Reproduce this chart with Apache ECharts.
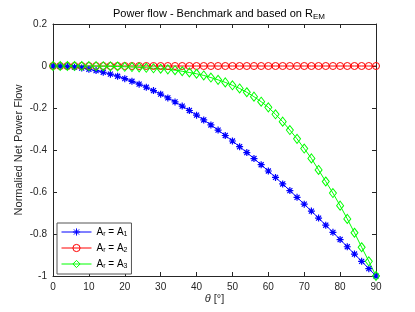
<!DOCTYPE html>
<html>
<head>
<meta charset="utf-8">
<script src="https://cdn.jsdelivr.net/npm/echarts@6/dist/echarts.min.js"></script>
<style>html,body{margin:0;padding:0;background:#fff}#c{width:415px;height:312px}</style>
</head>
<body>
<div id="c"></div>
<script>
var theta = [0,2,4,6,8,10,12,14,16,18,20,22,24,26,28,30,32,34,36,38,40,42,44,46,48,50,52,54,56,58,60,62,64,66,68,70,72,74,76,78,80,82,84,86,88,90];
var seriesA1 = [0,-0.0006,-0.0024,-0.0055,-0.0097,-0.0152,-0.0219,-0.0297,-0.0387,-0.0489,-0.0603,-0.0728,-0.0865,-0.1012,-0.1171,-0.134,-0.152,-0.171,-0.191,-0.212,-0.234,-0.2569,-0.2807,-0.3053,-0.3309,-0.3572,-0.3843,-0.4122,-0.4408,-0.4701,-0.5,-0.5305,-0.5616,-0.5933,-0.6254,-0.658,-0.691,-0.7244,-0.7581,-0.7921,-0.8264,-0.8608,-0.8955,-0.9302,-0.9651,-1];
var seriesA2 = [0,0,0,0,0,0,0,0,0,0,0,0,0,0,0,0,0,0,0,0,0,0,0,0,0,0,0,0,0,0,0,0,0,0,0,0,0,0,0,0,0,0,0,0,0,0];
var seriesA3 = [0,0,0,0,-0.0001,-0.0003,-0.0006,-0.001,-0.0016,-0.0025,-0.0037,-0.005,-0.0065,-0.0085,-0.011,-0.013,-0.016,-0.02,-0.025,-0.031,-0.037,-0.045,-0.055,-0.066,-0.078,-0.092,-0.107,-0.125,-0.146,-0.17,-0.197,-0.23,-0.265,-0.305,-0.347,-0.393,-0.44,-0.495,-0.55,-0.605,-0.665,-0.728,-0.794,-0.863,-0.93,-1];
var xTicks = [0,10,20,30,40,50,60,70,80,90];
var yTicks = [0.2,0,-0.2,-0.4,-0.6,-0.8,-1];
var legendNames = ['A1','A2','A3'];

function pairs(ys){ return theta.map(function(t,i){ return [t, ys[i]]; }); }
var axisCol = '#262626';
var font = 'Liberation Sans, Arial, sans-serif';
var asterisk = 'path://M0,-5L0,5M-5,0L5,0M-3.6,-3.6L3.6,3.6M-3.6,3.6L3.6,-3.6';
var colors = {A1:'#0000ff', A2:'#ff0000', A3:'#00ff00'};

var chart = echarts.init(document.getElementById('c'), null, {renderer:'canvas'});
function baseAxis(){ return {
  axisLine:{show:true, onZero:false, lineStyle:{color:axisCol, width:1}},
  axisTick:{show:true, inside:true, length:4, lineStyle:{color:axisCol}},
  splitLine:{show:false}
};}
chart.setOption({
  animation:false,
  backgroundColor:'#fff',
  title:{
    text:'{t|Power flow - Benchmark and based on R}{s|EM}',
    left:214, top:2, textAlign:'center',
    textStyle:{fontWeight:'normal', rich:{
      t:{fontFamily:font, fontSize:11, fontWeight:'normal', color:'#000'},
      s:{fontFamily:font, fontSize:8, fontWeight:'normal', color:'#000', padding:[6,0,0,0]}
    }}
  },
  grid:{left:53, right:39, top:24, bottom:36, containLabel:false},
  legend:{
    orient:'vertical', left:57, top:223,
    data:legendNames.map(function(n){ return {
      name:n,
      itemStyle:{color: n==='A1' ? colors[n] : 'rgba(0,0,0,0)', borderColor:colors[n], borderWidth:1},
      lineStyle:{color:colors[n], width:1}
    };}),
    backgroundColor:'#fff', borderColor:'#555', borderWidth:1,
    padding:[4,4,4,4], itemGap:5, itemWidth:30, itemHeight:9,
    formatter:function(n){ return '{a|A}{s|r}{a| = A}{s|'+n.slice(1)+'}'; },
    textStyle:{rich:{
      a:{fontFamily:font, fontSize:10, color:'#000'},
      s:{fontFamily:font, fontSize:7, color:'#000', padding:[5,0,0,0]}
    }}
  },
  xAxis:[
    Object.assign(baseAxis(), {
      type:'value', min:0, max:90, interval:10, position:'bottom',
      axisLabel:{fontFamily:font, fontSize:10, color:axisCol, margin:6},
      name:'{i|θ} [°]', nameLocation:'middle', nameGap:17, nameMoveOverlap:false,
      nameTextStyle:{fontFamily:font, fontSize:11, color:axisCol, rich:{i:{fontFamily:font, fontSize:11, fontStyle:'italic', color:axisCol}}}
    }),
    Object.assign(baseAxis(), {
      type:'value', min:0, max:90, interval:10, position:'top',
      axisLabel:{show:false}
    })
  ],
  yAxis:[
    Object.assign(baseAxis(), {
      type:'value', min:-1, max:0.2, interval:0.2, position:'left',
      axisLabel:{fontFamily:font, fontSize:10, color:axisCol, margin:6,
        formatter:function(v){ var r=Math.round(v*10)/10; return String(r); }},
      name:'Normalied Net Power Flow', nameLocation:'middle', nameGap:29, nameMoveOverlap:false,
      nameTextStyle:{fontFamily:font, fontSize:11, color:axisCol}
    }),
    Object.assign(baseAxis(), {
      type:'value', min:-1, max:0.2, interval:0.2, position:'right',
      axisLabel:{show:false}
    })
  ],
  series:[
    {name:'A1', type:'line', data:pairs(seriesA1), symbol:asterisk, symbolSize:7,
     lineStyle:{color:colors.A1, width:1}, itemStyle:{color:colors.A1, borderColor:colors.A1, borderWidth:1.2}},
    {name:'A2', type:'line', data:pairs(seriesA2), symbol:'circle', symbolSize:7,
     lineStyle:{color:colors.A2, width:1}, itemStyle:{color:'rgba(0,0,0,0)', borderColor:colors.A2, borderWidth:1}},
    {name:'A3', type:'line', data:pairs(seriesA3), symbol:'diamond', symbolSize:[7,9],
     lineStyle:{color:colors.A3, width:1}, itemStyle:{color:'rgba(0,0,0,0)', borderColor:colors.A3, borderWidth:1}}
  ]
});
</script>
</body>
</html>
